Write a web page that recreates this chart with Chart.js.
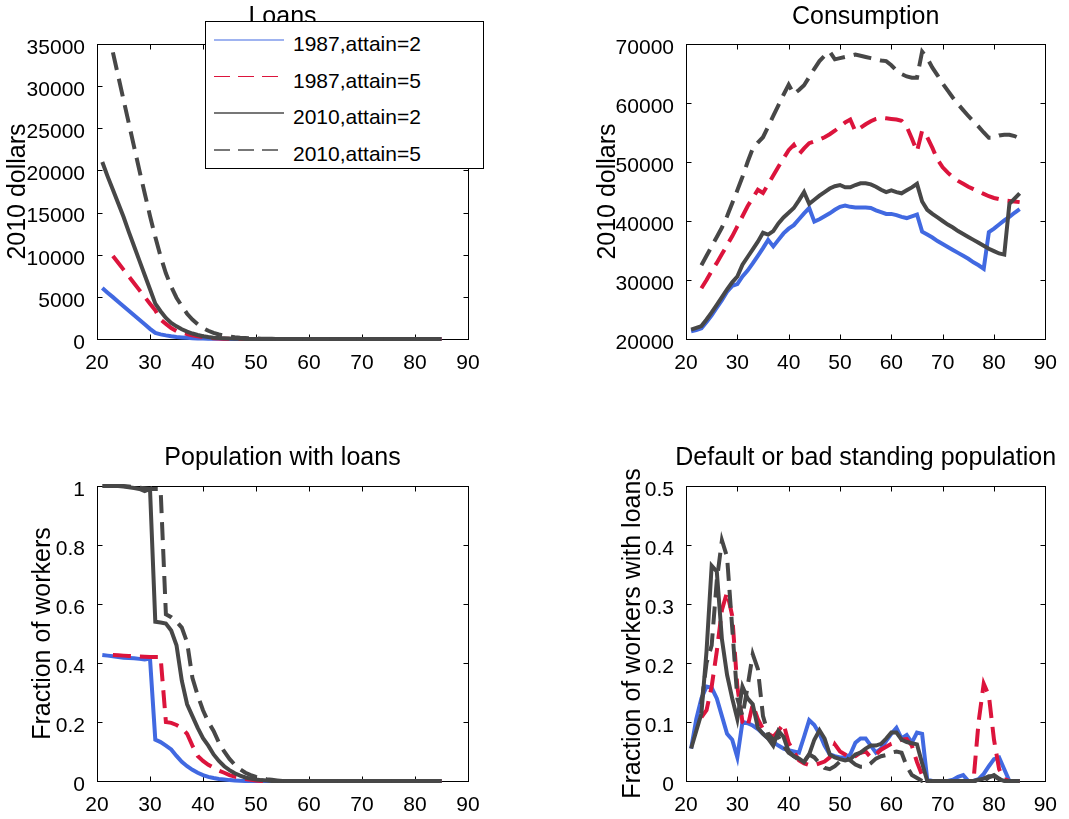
<!DOCTYPE html>
<html>
<head>
<meta charset="utf-8">
<script src="https://cdn.jsdelivr.net/npm/chart.js@4.4.0/dist/chart.umd.min.js"></script>
<style>
  body { margin: 0; background: #fff; width: 1069px; height: 819px; position: relative; overflow: hidden;
         font-family: "Liberation Sans", Arial, sans-serif; }
  canvas { position: absolute; }
  #legend { position: absolute; left: 205px; top: 21px; width: 277px; height: 146px;
            border: 1px solid #000; background: #fff; }
  #legend svg { position: absolute; left: 0; top: 0; }
  #legend span { position: absolute; left: 87px; font-size: 21px; line-height: 24px; color: #000; white-space: nowrap; }
</style>
</head>
<body>
<canvas id="loans" width="534" height="400" style="left:0;top:0"></canvas>
<canvas id="cons" width="535" height="400" style="left:534px;top:0"></canvas>
<canvas id="pop" width="534" height="419" style="left:0;top:400px"></canvas>
<canvas id="dflt" width="535" height="419" style="left:534px;top:400px"></canvas>

<div id="legend">
  <svg width="277" height="146">
    <line x1="8" y1="18" x2="78" y2="18" stroke="#4169e1" stroke-width="1.2"/>
    <line x1="8" y1="54.5" x2="78" y2="54.5" stroke="#dc143c" stroke-width="1.2" stroke-dasharray="16 8"/>
    <line x1="8" y1="91" x2="78" y2="91" stroke="#777" stroke-width="2"/>
    <line x1="8" y1="128" x2="78" y2="128" stroke="#777" stroke-width="2" stroke-dasharray="16 8"/>
  </svg>
  <span style="top:10px">1987,attain=2</span>
  <span style="top:47px">1987,attain=5</span>
  <span style="top:83px">2010,attain=2</span>
  <span style="top:120px">2010,attain=5</span>
</div>

<script>
// age grid (x axis)
const ages = [21,22,23,24,25,26,27,28,29,30,
              31,32,33,34,35,36,37,38,39,40,
              41,42,43,44,45,46,47,48,49,50,
              51,52,53,54,55,56,57,58,59,60,
              61,62,63,64,65,66,67,68,69,70,
              71,72,73,74,75,76,77,78,79,80,
              81,82,83,84,85];

const seriesLabels = ["1987,attain=2", "1987,attain=5", "2010,attain=2", "2010,attain=5"];

// Loans (2010 dollars)
const loanBlue87 = [6050,5500,4970,4430,3890,3350,2820,2280,1740,1200,
                    720,550,430,330,250,190,140,100,70,50,
                    35,25,15,10,5,0,0,0,0,0,
                    0,0,0,0,0,0,0,0,0,0,
                    0,0,0,0,0,0,0,0,0,0,
                    0,0,0,0,0,0,0,0,0,0,
                    0,0,0,0,0];
const loanRed87 = [null,null,9850,9040,8230,7420,6610,5800,4990,4180,
                   3400,2300,1800,1300,950,760,600,440,320,220,
                   150,100,60,35,20,10,0,0,0,0,
                   0,0,0,0,0,0,0,0,0,0,
                   0,0,0,0,0,0,0,0,0,0,
                   0,0,0,0,0,0,0,0,0,0,
                   0,0,0,0,0];
const loanGray10 = [21000,19300,17700,16100,14500,12700,11000,9300,7600,5900,
                    4200,3300,2500,1900,1500,1150,870,650,470,330,
                    230,160,110,75,50,30,20,10,0,0,
                    0,0,0,0,0,0,0,0,0,0,
                    0,0,0,0,0,0,0,0,0,0,
                    0,0,0,0,0,0,0,0,0,0,
                    0,0,0,0,0];
const loanGrayDash10 = [null,null,34000,31200,28400,25600,22800,20000,17300,14600,
                        12100,9800,7800,6200,4900,3900,3000,2300,1750,1300,
                        980,720,530,400,300,220,160,120,90,60,
                        40,25,15,8,0,0,0,0,0,0,
                        0,0,0,0,0,0,0,0,0,0,
                        0,0,0,0,0,0,0,0,0,0,
                        0,0,0,0,0];

// Consumption (2010 dollars)
const consBlue87 = [21300,21500,21800,22900,24000,25300,26600,28000,29000,29300,
                    30600,31600,32800,34100,35400,36800,35700,36800,37900,38700,
                    39300,40300,41300,42200,39900,40300,40800,41300,41900,42400,
                    42600,42400,42300,42300,42300,42200,41800,41500,41200,41200,
                    41000,40700,40500,40800,41100,38200,37700,37200,36600,36100,
                    35600,35100,34600,34100,33600,33000,32500,31900,38100,38700,
                    39400,40100,40700,41400,42000];
const consRed87 = [null,null,28600,30000,31500,32900,34400,35900,37400,39100,
                   40800,42500,43900,45300,44750,46200,47700,49200,50600,52000,
                   52900,51300,52300,53200,53500,53800,54200,54700,55300,56000,
                   56700,57200,55200,55800,56400,56900,57300,57500,57400,57300,
                   57200,57000,56000,54000,51800,55300,54200,52400,50400,49100,
                   48200,47400,46800,46300,45800,45400,45000,44600,44200,43900,
                   43700,43500,43400,43300,43200];
const consGray10 = [21600,21900,22200,23300,24500,25800,27100,28400,29600,30600,
                    32600,33900,35200,36500,38000,37700,38300,39600,40600,41400,
                    42200,43500,44900,42900,43600,44300,44900,45500,45900,46100,
                    45700,45700,46100,46400,46400,46200,45800,45300,44900,45200,
                    44900,44700,45200,45700,46300,43300,41900,41200,40600,40000,
                    39400,38900,38300,37800,37300,36800,36300,35800,35300,34900,
                    34500,34300,42900,43800,44700];
const consGrayDash10 = [null,null,32500,34100,35700,37300,38900,40800,43000,45200,
                        47500,50000,52300,53300,54200,56000,57800,59600,61400,63100,
                        61500,62200,63000,64400,65800,67100,68000,68700,67400,67600,
                        67800,68000,68200,68000,67800,67600,67400,67200,67100,66400,
                        65500,64900,64500,64300,64300,68700,67600,66000,64700,63300,
                        62100,60900,59800,58800,57800,56900,56000,55000,54100,54100,
                        54500,54600,54600,54400,54000];

// Population with loans (fraction of workers)
const popBlue87 = [0.427,0.425,0.423,0.42,0.418,0.417,0.416,0.414,0.412,0.415,
                   0.14,0.132,0.12,0.107,0.085,0.065,0.05,0.038,0.028,0.02,
                   0.014,0.01,0.007,0.005,0.003,0.002,0.001,0,0,0,
                   0,0,0,0,0,0,0,0,0,0,
                   0,0,0,0,0,0,0,0,0,0,
                   0,0,0,0,0,0,0,0,0,0,
                   0,0,0,0,0];
const popRed87 = [null,null,0.427,0.426,0.425,0.424,0.423,0.422,0.421,0.42,
                  0.42,0.42,0.2,0.197,0.19,0.18,0.16,0.12,0.085,0.068,
                  0.055,0.045,0.035,0.028,0.02,0.015,0.01,0.007,0.004,0.002,
                  0,0,0,0,0,0,0,0,0,0,
                  0,0,0,0,0,0,0,0,0,0,
                  0,0,0,0,0,0,0,0,0,0,
                  0,0,0,0,0];
const popGray10 = [1.0,1.0,1.0,1.0,0.998,0.996,0.993,0.99,0.983,0.99,
                   0.54,0.537,0.534,0.51,0.46,0.34,0.26,0.22,0.18,0.145,
                   0.12,0.09,0.068,0.05,0.037,0.026,0.018,0.012,0.008,0.005,
                   0.003,0.002,0,0,0,0,0,0,0,0,
                   0,0,0,0,0,0,0,0,0,0,
                   0,0,0,0,0,0,0,0,0,0,
                   0,0,0,0,0];
const popGrayDash10 = [null,null,1.0,1.0,1.0,0.998,0.996,0.994,0.992,0.99,
                       0.99,0.99,0.565,0.555,0.54,0.52,0.47,0.35,0.29,0.24,
                       0.2,0.17,0.13,0.1,0.075,0.055,0.04,0.028,0.02,0.014,
                       0.009,0.006,0.004,0.002,0,0,0,0,0,0,
                       0,0,0,0,0,0,0,0,0,0,
                       0,0,0,0,0,0,0,0,0,0,
                       0,0,0,0,0];

// Default or bad standing (fraction of workers with loans)
const dfltBlue87 = [0.055,0.105,0.14,0.16,0.158,0.14,0.11,0.08,0.07,0.04,
                    0.1,0.098,0.094,0.088,0.08,0.072,0.066,0.06,0.055,0.052,
                    0.05,0.048,0.075,0.103,0.095,0.08,0.06,0.045,0.042,0.04,
                    0.04,0.045,0.065,0.072,0.072,0.06,0.048,0.055,0.068,0.08,
                    0.09,0.072,0.078,0.065,0.082,0.08,0.002,0,0,0,
                    0,0.002,0.007,0.01,0,0,0.003,0.012,0.025,0.037,
                    0.04,0.02,0,0,0];
const dfltRed87 = [null,null,0.108,0.12,0.16,0.22,0.29,0.32,0.28,0.16,
                   0.1,0.092,0.13,0.105,0.088,0.08,0.075,0.085,0.097,0.065,
                   0.05,0.035,0.03,0.027,0.027,0.03,0.033,0.04,0.062,0.05,
                   0.045,0.04,0.042,0.048,0.05,0.04,0.045,0.053,0.058,0.063,
                   0.066,0.07,0.071,0.06,0.032,0.01,0,0,0,0,
                   0,0,0,0,0,0,0.1,0.165,0.145,0.07,
                   0.02,0.003,0,0,0];
const dfltGray10 = [0.055,0.085,0.114,0.22,0.365,0.355,0.24,0.18,0.14,0.105,
                    0.16,0.14,0.13,0.09,0.08,0.072,0.06,0.085,0.075,0.05,
                    0.042,0.038,0.032,0.045,0.07,0.086,0.072,0.045,0.04,0.037,
                    0.035,0.037,0.045,0.048,0.055,0.06,0.06,0.063,0.072,0.082,
                    0.082,0.07,0.066,0.064,0.062,0.03,0,0,0,0,
                    0,0,0,0,0,0,0.002,0.004,0.008,0.008,
                    0.003,0,0,0,0];
const dfltGrayDash10 = [null,null,0.13,0.2,0.23,0.34,0.408,0.38,0.26,0.14,
                        0.11,0.16,0.215,0.19,0.11,0.08,0.07,0.075,0.06,0.048,
                        0.042,0.036,0.033,0.045,0.04,0.03,0.022,0.02,0.025,0.033,
                        0.04,0.035,0.028,0.024,0.024,0.03,0.038,0.042,0.044,0.048,
                        0.05,0.048,0.025,0.01,0.005,0,0,0,0,0,
                        0,0,0,0,0,0,0,0,0.006,0.01,
                        0.004,0,0,0,0];

const FONT = '"Liberation Sans", Arial, sans-serif';
const BLUE = "#4169e1";
const RED = "#dc143c";
const GRAY = "#474747";
const DASH = [18, 9];

// frame, inward ticks, title and y label (matlab look)
const matlabAxes = {
  id: "matlabAxes",
  beforeDatasetsDraw(chart, args, opts) {
    const { ctx, chartArea: a, scales } = chart;
    const L = Math.round(a.left) + 0.5, R = Math.round(a.right) + 0.5;
    const T = Math.round(a.top) + 0.5, B = Math.round(a.bottom) + 0.5;
    ctx.save();
    ctx.strokeStyle = "#000";
    ctx.lineWidth = 1;
    ctx.strokeRect(L, T, R - L, B - T);
    ctx.beginPath();
    scales.x.ticks.forEach(t => {
      const px = Math.round(scales.x.getPixelForValue(t.value)) + 0.5;
      ctx.moveTo(px, B); ctx.lineTo(px, B - 5);
      ctx.moveTo(px, T); ctx.lineTo(px, T + 5);
    });
    scales.y.ticks.forEach(t => {
      const py = Math.round(scales.y.getPixelForValue(t.value)) + 0.5;
      ctx.moveTo(L, py); ctx.lineTo(L + 5, py);
      ctx.moveTo(R, py); ctx.lineTo(R - 5, py);
    });
    ctx.stroke();
    ctx.restore();
  },
  afterDraw(chart, args, opts) {
    const { ctx, chartArea: a } = chart;
    ctx.save();
    ctx.fillStyle = "#000";
    ctx.font = "25px " + FONT;
    ctx.textAlign = "center";
    ctx.textBaseline = "alphabetic";
    ctx.fillText(opts.title, (a.left + a.right) / 2, a.top - opts.titleGap);
    ctx.translate(a.left - opts.labelGap, (a.top + a.bottom) / 2);
    ctx.rotate(-Math.PI / 2);
    ctx.fillText(opts.ylabel, 0, 0);
    ctx.restore();
  }
};

function toPoints(arr) {
  return ages.map((a, i) => ({ x: a, y: arr[i] }));
}

function makeChart(id, series, cfg) {
  const canvas = document.getElementById(id);
  const W = canvas.width, H = canvas.height;
  const styles = [
    { color: BLUE, dash: [], order: 4 },
    { color: RED, dash: DASH, order: 3 },
    { color: GRAY, dash: [], order: 2 },
    { color: GRAY, dash: DASH, order: 1 }
  ];
  const datasets = series.map((s, i) => ({
    label: seriesLabels[i],
    data: toPoints(s),
    borderColor: styles[i].color,
    borderDash: styles[i].dash,
    borderWidth: 4,
    pointRadius: 0,
    tension: 0,
    fill: false,
    clip: false,
    order: styles[i].order
  }));
  const tickFont = { family: FONT, size: 21 };

  return new Chart(canvas, {
    type: "line",
    data: { datasets: datasets },
    plugins: [matlabAxes],
    options: {
      responsive: false,
      animation: false,
      devicePixelRatio: 1,
      layout: { padding: { left: 0, top: cfg.area[1], right: W - cfg.area[2], bottom: 0 } },
      plugins: {
        legend: { display: false },
        tooltip: { enabled: false },
        title: { display: false },
        matlabAxes: { title: cfg.title, ylabel: cfg.ylabel, titleGap: cfg.titleGap, labelGap: cfg.labelGap }
      },
      scales: {
        x: {
          type: "linear", min: 20, max: 90,
          grid: { display: false, drawTicks: false },
          border: { display: false },
          ticks: { stepSize: 10, padding: 12, color: "#000", font: tickFont, maxRotation: 0,
                   callback: v => String(v) },
          afterFit(s) { s.height = H - cfg.area[3]; }
        },
        y: {
          type: "linear", min: cfg.ymin, max: cfg.ymax,
          grid: { display: false, drawTicks: false },
          border: { display: false },
          ticks: { stepSize: cfg.ystep, padding: 12, labelOffset: 4, color: "#000", font: tickFont,
                   callback: v => String(v) },
          afterFit(s) { s.width = cfg.area[0]; }
        }
      }
    }
  });
}

// area = [left, top, right, bottom] in canvas pixels
makeChart("loans", [loanBlue87, loanRed87, loanGray10, loanGrayDash10], {
  area: [97, 44, 468, 339], ymin: 0, ymax: 35000, ystep: 5000,
  title: "Loans", ylabel: "2010 dollars", titleGap: 20, labelGap: 72
});
makeChart("cons", [consBlue87, consRed87, consGray10, consGrayDash10], {
  area: [152, 44, 522, 339], ymin: 20000, ymax: 70000, ystep: 10000,
  title: "Consumption", ylabel: "2010 dollars", titleGap: 20, labelGap: 71
});
makeChart("pop", [popBlue87, popRed87, popGray10, popGrayDash10], {
  area: [97, 86, 468, 381], ymin: 0, ymax: 1, ystep: 0.2,
  title: "Population with loans", ylabel: "Fraction of workers", titleGap: 21, labelGap: 47
});
makeChart("dflt", [dfltBlue87, dfltRed87, dfltGray10, dfltGrayDash10], {
  area: [152, 86, 522, 381], ymin: 0, ymax: 0.5, ystep: 0.1,
  title: "Default or bad standing population", ylabel: "Fraction of workers with loans", titleGap: 21, labelGap: 46
});
</script>
</body>
</html>
